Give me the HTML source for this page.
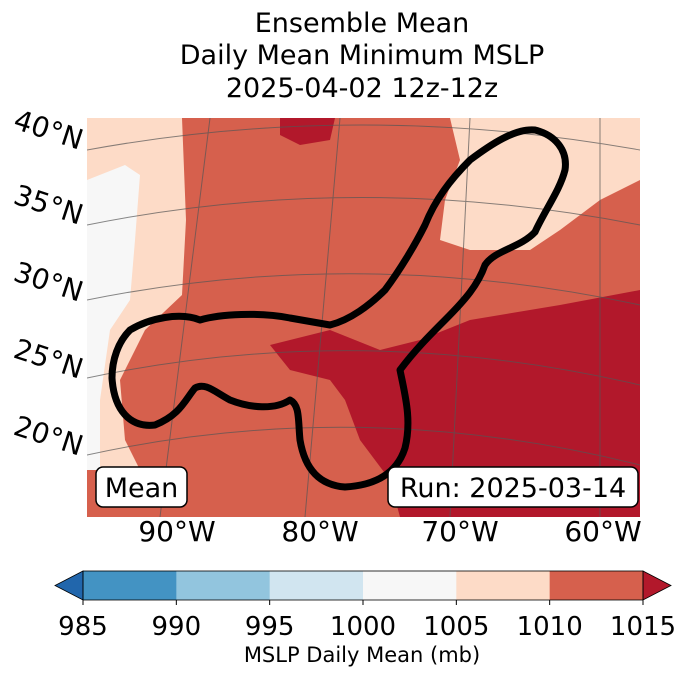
<!DOCTYPE html>
<html><head><meta charset="utf-8">
<style>
body{margin:0;background:#fff;}
svg{display:block;font-family:"DejaVu Sans","Liberation Sans",sans-serif;}
</style></head>
<body>
<svg width="688" height="674" viewBox="0 0 688 674">
<g font-size="27" text-anchor="middle" fill="#000">
<text x="362" y="32">Ensemble Mean</text>
<text x="362" y="64">Daily Mean Minimum MSLP</text>
<text x="362" y="97">2025-04-02 12z-12z</text>
</g>
<defs><clipPath id="mc"><rect x="87" y="118" width="553" height="399"/></clipPath></defs>
<g clip-path="url(#mc)">
<rect x="87" y="118" width="553" height="399" fill="#d6604d"/>
<polygon fill="#fddbc7" points="87,118 182,118 186,220 182,295 145,330 120,380 125,440 140,470 87,470"/>
<polygon fill="#f7f7f7" points="87,180 125,165 140,175 135,240 130,300 110,330 100,400 100,470 87,470"/>
<polygon fill="#b2182b" points="270,345 330,330 380,350 420,340 470,320 560,305 640,290 640,517 400,517 390,480 360,440 345,400 330,380 290,370"/>
<polygon fill="#fddbc7" points="450,118 640,118 640,180 600,200 560,230 530,250 470,250 440,240 445,200 460,160"/>
<polygon fill="#b2182b" points="280,118 335,118 330,140 300,145 280,135"/>
<g fill="none" stroke="#555" stroke-width="1" opacity="0.7">
<path d="M87,150 Q360,100 640,150"/>
<path d="M87,225 Q360,170 640,225"/>
<path d="M87,300 Q360,245 640,305"/>
<path d="M87,378 Q360,320 640,385"/>
<path d="M87,455 Q360,395 640,465"/>
<path d="M210,118 L160,517"/>
<path d="M340,118 L305,517"/>
<path d="M470,118 L450,517"/>
<path d="M600,118 L600,517"/>
</g>
<path fill="none" stroke="#000" stroke-width="7" stroke-linejoin="round" d="M130,330 C150,318 180,312 200,320 C220,314 260,312 290,318 L330,325 C350,320 370,305 385,290 C400,270 415,245 425,225 C435,200 450,180 470,160 C490,145 515,128 535,130 C555,135 568,150 565,170 C560,190 545,210 535,232 C520,248 495,250 485,265 C478,285 465,300 445,320 C430,335 415,350 400,370 C405,395 412,420 405,448 C398,470 380,485 345,487 C320,485 305,470 300,440 C298,420 300,405 290,400 C275,410 250,408 230,400 C215,392 205,382 195,388 C185,400 180,415 155,425 C130,428 114,410 112,378 C112,360 118,342 130,330 Z"/>
</g>
<g font-size="28" fill="#000">
<text transform="translate(12,128) rotate(18)">40°N</text>
<text transform="translate(12,203) rotate(18)">35°N</text>
<text transform="translate(12,280) rotate(18)">30°N</text>
<text transform="translate(12,357) rotate(18)">25°N</text>
<text transform="translate(12,434) rotate(18)">20°N</text>
</g>
<g font-size="28" fill="#000" text-anchor="middle">
<text x="177" y="541">90°W</text>
<text x="320" y="541">80°W</text>
<text x="460" y="541">70°W</text>
<text x="603" y="541">60°W</text>
</g>
<g>
<rect x="96" y="467" width="91" height="40" rx="7" fill="#fff" stroke="#000" stroke-width="1.5"/>
<text x="141.5" y="497" font-size="27" text-anchor="middle">Mean</text>
</g>
<g>
<rect x="388" y="467" width="250" height="40" rx="7" fill="#fff" stroke="#000" stroke-width="1.5"/>
<text x="513" y="497" font-size="27" text-anchor="middle">Run: 2025-03-14</text>
</g>
<g id="cbar"></g>
<text x="362" y="662" font-size="21" text-anchor="middle">MSLP Daily Mean (mb)</text>
</svg>
<script>
const levels=[985,990,995,1000,1005,1010,1015];
const colors=["#4393c3","#92c5de","#d1e5f0","#f7f7f7","#fddbc7","#d6604d"];
const underColor="#2166ac", overColor="#b2182b";
const NS="http://www.w3.org/2000/svg";
const g=document.getElementById('cbar');
const x0=83,x1=643,y0=571,h=29;
function sx(v){return x0+(v-levels[0])/(levels[levels.length-1]-levels[0])*(x1-x0);}
for(let i=0;i<colors.length;i++){
 const r=document.createElementNS(NS,'rect');
 r.setAttribute('x',sx(levels[i]));r.setAttribute('y',y0);
 r.setAttribute('width',sx(levels[i+1])-sx(levels[i])+0.5);r.setAttribute('height',h);
 r.setAttribute('fill',colors[i]);
 
 
 g.appendChild(r);
}
const tl=document.createElementNS(NS,'polygon');
tl.setAttribute('points',`${x0},${y0} ${x0-28},${y0+h/2} ${x0},${y0+h}`);
tl.setAttribute('fill',underColor);tl.setAttribute('stroke','#000');tl.setAttribute('stroke-width','0.8');


g.appendChild(tl);
const tr=document.createElementNS(NS,'polygon');
tr.setAttribute('points',`${x1},${y0} ${x1+28},${y0+h/2} ${x1},${y0+h}`);
tr.setAttribute('fill',overColor);tr.setAttribute('stroke','#000');tr.setAttribute('stroke-width','0.8');


g.appendChild(tr);
const fr=document.createElementNS(NS,'rect');
fr.setAttribute('x',x0);fr.setAttribute('y',y0);fr.setAttribute('width',x1-x0);fr.setAttribute('height',h);
fr.setAttribute('fill','none');fr.setAttribute('stroke','#000');fr.setAttribute('stroke-width','0.8');


g.appendChild(fr);
levels.forEach(v=>{
 const t=document.createElementNS(NS,'text');
 t.setAttribute('x',sx(v));t.setAttribute('y',635);t.setAttribute('font-size','26');t.setAttribute('text-anchor','middle');
 t.textContent=v;
 
 
 g.appendChild(t);
 const l=document.createElementNS(NS,'line');
 l.setAttribute('x1',sx(v));l.setAttribute('x2',sx(v));l.setAttribute('y1',y0+h);l.setAttribute('y2',y0+h+5);
 l.setAttribute('stroke','#000');
 
 
 g.appendChild(l);
});
</script>
</body></html>
